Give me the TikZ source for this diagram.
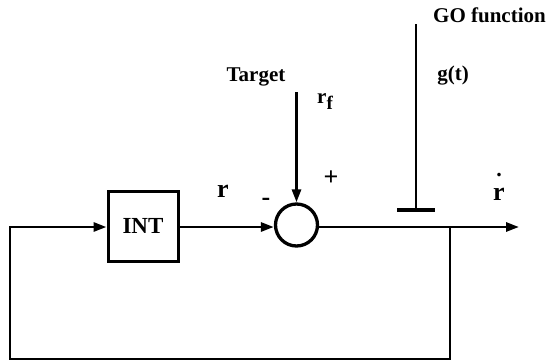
\documentclass[tikz,border=0pt]{standalone}
\usepackage{fontspec}
\setmainfont{Liberation Serif}
\usetikzlibrary{arrows.meta}
\begin{document}
\begin{tikzpicture}[x=1pt,y=-1pt,
  line/.style={line width=2.8pt},
  arr/.style={line, -{Triangle[length=13pt,width=9pt]}},
  lbl/.style={font=\fontsize{21}{25}\selectfont\bfseries, inner sep=0pt},
  big/.style={font=\fontsize{26}{30}\selectfont\bfseries, inner sep=0pt},
]
\useasboundingbox (0,0) rectangle (553,362);
\node[draw, line width=3pt, minimum width=70pt, minimum height=70pt, inner sep=0pt, font=\fontsize{23}{27}\selectfont\bfseries] (int) at (143,226) {INT};
\node[draw, circle, line width=3.3pt, minimum size=42pt, inner sep=0pt] (sum) at (296.5,225) {};
\coordinate (tl) at (10,227);
\coordinate (bl) at (10,359);
\coordinate (br) at (450,359);
\coordinate (bm) at (450,227);
\coordinate (out) at (519,227);
\coordinate (tgt) at (296.5,92);
\coordinate (gotop) at (416,24);
\coordinate (gobot) at (416,210);
\coordinate (barl) at (397,210);
\coordinate (barr) at (435,210);
\draw[arr] (bm) -- (br) -- (bl) -- (tl) -- (int.west |- tl);
\draw[arr] (int.east |- tl) -- (sum.west |- tl);
\draw[arr] (tgt) -- (sum);
\draw[arr] (sum.east |- tl) -- (out);
\draw[line] (gotop) -- (gobot);
\draw[line width=4.5pt] (barl) -- (barr);
\node[lbl, anchor=base] (target) at (256,81) {Target};
\node[lbl, anchor=base west] (go) at (433,22) {GO function};
\node[lbl, anchor=base] (g) at (453,80) {g(t)};
\node[lbl, anchor=base west] (rf) at (317,103) {r\raisebox{-6pt}{\fontsize{19}{22}\selectfont f}};
\node[big] (plus) at (331,178) {+};
\node[big] (minus) at (266,202) {-};
\node[big, anchor=base] (r) at (223,197) {r};
\node[big, anchor=base] (rdot) at (499,200) {\shortstack[c]{\fontsize{22}{8}\selectfont .\\[8pt]r}};
\end{tikzpicture}
\end{document}
